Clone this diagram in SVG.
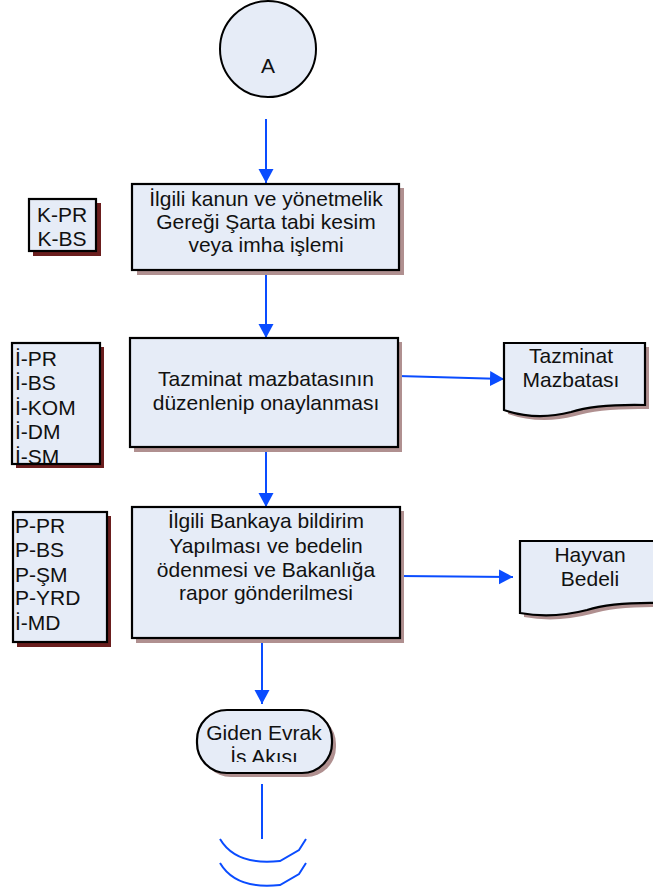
<svg xmlns="http://www.w3.org/2000/svg" width="653" height="892" viewBox="0 0 653 892">
<style>
text{font-family:"Liberation Sans",Arial,sans-serif;font-size:21px;fill:#111}
.c{text-anchor:middle}
.box{fill:#e6ecf7;stroke:#000;stroke-width:2.2}
.sh{fill:#b09090}
.shd{fill:#6b1e1e}
.ln{stroke:#0a4cff;stroke-width:2;fill:none}
</style>
<defs>
<marker id="ah" markerWidth="16" markerHeight="16" refX="14" refY="7.5" orient="auto" markerUnits="userSpaceOnUse">
<path d="M0,0 L14,7.5 L0,15 Z" fill="#0a4cff"/>
</marker>
<clipPath id="cpI"><rect x="12" y="343" width="88" height="120"/></clipPath>
<clipPath id="cpG"><rect x="190" y="700" width="150" height="62"/></clipPath>
</defs>
<g id="connectors">
<line class="ln" x1="266" y1="119" x2="266" y2="183" marker-end="url(#ah)"/>
<line class="ln" x1="266" y1="271" x2="266" y2="338" marker-end="url(#ah)"/>
<line class="ln" x1="266" y1="448" x2="266" y2="507" marker-end="url(#ah)"/>
<line class="ln" x1="398" y1="376" x2="504" y2="379" marker-end="url(#ah)"/>
<line class="ln" x1="400" y1="576" x2="513" y2="577" marker-end="url(#ah)"/>
<line class="ln" x1="262" y1="639" x2="262" y2="704" marker-end="url(#ah)"/>
<line class="ln" x1="262" y1="784" x2="262" y2="839"/>
<path class="ln" d="M220,839 Q236,866 280,861 L299,850 L306,839"/>
<path class="ln" d="M220,863 Q236,890 280,885 L299,874 L306,863"/>
</g>
<g id="nodeA">
<circle cx="268" cy="49" r="48" fill="#e6ecf7" stroke="#000" stroke-width="2"/>
<text class="c" x="268" y="73">A</text>
</g>
<g id="kbox">
<rect class="shd" x="33" y="203" width="68" height="53"/>
<rect class="box" x="29" y="199" width="67" height="52"/>
<text class="c" x="62" y="222">K-PR</text>
<text class="c" x="62" y="246">K-BS</text>
</g>
<g id="box1">
<rect class="sh" x="137" y="188" width="267" height="87"/>
<rect class="box" x="132" y="184" width="267" height="86"/>
<text class="c" x="266" y="206">İlgili kanun ve yönetmelik</text>
<text class="c" x="266" y="229">Gereği Şarta tabi kesim</text>
<text class="c" x="266" y="252">veya imha işlemi</text>
</g>
<g id="ibox">
<rect class="shd" x="16" y="347" width="88" height="121"/>
<rect class="box" x="12" y="343" width="88" height="121"/>
<g clip-path="url(#cpI)">
<text x="15" y="366">İ-PR</text>
<text x="15" y="390">İ-BS</text>
<text x="15" y="415">İ-KOM</text>
<text x="15" y="439">İ-DM</text>
<text x="15" y="464">İ-SM</text>
</g>
</g>
<g id="box2">
<rect class="sh" x="134" y="342" width="268" height="110"/>
<rect class="box" x="130" y="338" width="268" height="109"/>
<text class="c" x="266" y="386">Tazminat mazbatasının</text>
<text class="c" x="266" y="410">düzenlenip onaylanması</text>
</g>
<g id="doc1">
<path class="sh" d="M508,347 L649,347 L649,409 Q600,408 575,416 Q540,425 508,414 Z"/>
<path class="box" d="M504,343 L645,343 L645,405 Q596,404 571,412 Q536,421 504,410 Z"/>
<text class="c" x="571" y="363">Tazminat</text>
<text class="c" x="571" y="387">Mazbatası</text>
</g>
<g id="pbox">
<rect class="shd" x="17" y="516" width="94" height="131"/>
<rect class="box" x="13" y="512" width="94" height="130"/>
<text x="15" y="533">P-PR</text>
<text x="15" y="557">P-BS</text>
<text x="15" y="582">P-ŞM</text>
<text x="15" y="605">P-YRD</text>
<text x="15" y="630">İ-MD</text>
</g>
<g id="box3">
<rect class="sh" x="136" y="511" width="268" height="132"/>
<rect class="box" x="132" y="507" width="268" height="131"/>
<text class="c" x="266" y="528">İlgili Bankaya bildirim</text>
<text class="c" x="266" y="553">Yapılması ve bedelin</text>
<text class="c" x="266" y="577">ödenmesi ve Bakanlığa</text>
<text class="c" x="266" y="600">rapor gönderilmesi</text>
</g>
<g id="doc2">
<path class="sh" d="M524,545 L665,545 L665,607 Q616,606 591,614 Q556,623 524,617 Z"/>
<path class="box" d="M520,541 L661,541 L661,603 Q612,602 587,610 Q552,619 520,613 Z"/>
<text class="c" x="590" y="562">Hayvan</text>
<text class="c" x="590" y="586">Bedeli</text>
</g>
<g id="terminator">
<rect class="sh" x="201" y="714" width="135" height="63" rx="30"/>
<rect class="box" x="197" y="710" width="135" height="63" rx="30"/>
<g clip-path="url(#cpG)">
<text class="c" x="264" y="740">Giden Evrak</text>
<text class="c" x="264" y="764">İs Akısı</text>
</g>
</g>
</svg>
